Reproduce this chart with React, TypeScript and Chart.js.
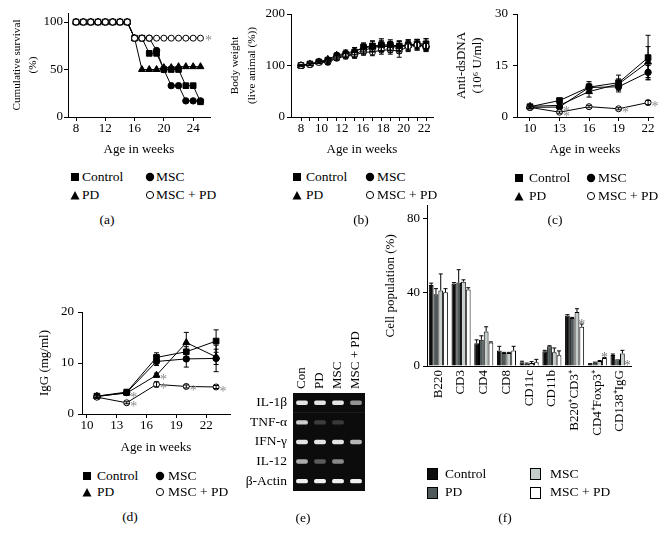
import React, { useEffect, useRef } from 'react';
import { Chart, registerables } from 'chart.js';

Chart.register(...registerables);

const FONT = "'Liberation Serif', 'Times New Roman', Times, serif";
Chart.defaults.font.family = FONT;
Chart.defaults.font.size = 13;
Chart.defaults.color = '#000';

// ---------- shared ----------
const seriesNames = ['Control', 'MSC', 'PD', 'MSC + PD'];

// ---------- (a) cumulative survival ----------
const survivalWeeks = [8, 9, 10, 11, 12, 13, 14, 15, 16, 17, 18, 19, 20, 21, 22, 23, 24, 25];
const survivalControl = [100, 100, 100, 100, 100, 100, 100, 100, 83, 83, 67, 67, 50, 50, 50, 33, 33, 16];
const survivalMsc = [100, 100, 100, 100, 100, 100, 100, 100, 83, 83, 83, 70, 50, 33, 33, 17, 17, 17];
const survivalPd = [100, 100, 100, 100, 100, 100, 100, 100, 83, 50, 50, 50, 52, 52, 53, 53, 53, 53];
const survivalMscPd = [100, 100, 100, 100, 100, 100, 100, 100, 83, 83, 83, 83, 83, 83, 83, 83, 83, 83];
const survivalStarsMscPd = [17];
const survivalXTicks = [8, 12, 16, 20, 24];
const survivalYTicks = [0, 50, 100];

// ---------- (b) body weight ----------
const weightWeeks = [8, 9, 10, 11, 12, 13, 14, 15, 16, 17, 18, 19, 20, 21, 22];
const weightControl = [100, 103, 107, 110, 118, 122, 126, 136, 138, 140, 140, 138, 140, 142, 142];
const weightMsc = [100, 102, 107, 108, 116, 120, 122, 130, 134, 138, 138, 137, 140, 141, 135];
const weightPd = [100, 103, 107, 112, 120, 124, 128, 134, 137, 138, 136, 136, 139, 140, 140];
const weightMscPd = [100, 102, 106, 106, 114, 118, 120, 126, 126, 130, 130, 128, 137, 140, 138];
const weightControlErr = [1, 2, 2, 4, 5, 6, 8, 8, 10, 12, 10, 9, 10, 9, 10];
const weightMscErr = [1, 2, 2, 4, 5, 5, 6, 7, 8, 9, 9, 10, 10, 9, 8];
const weightPdErr = [1, 2, 2, 4, 5, 6, 7, 8, 10, 11, 10, 12, 9, 10, 12];
const weightMscPdErr = [1, 2, 2, 4, 4, 5, 6, 6, 7, 8, 8, 12, 10, 10, 9];
const weightMarkTicks = [8, 9, 10, 11, 12, 13, 14, 15, 16, 17, 18, 19, 20, 21, 22];
const weightTickLabels = ['8', '10', '12', '16', '18', '20', '22'];
const weightTickPositions = [8, 10.3, 12.6, 14.9, 17.2, 19.5, 21.8];
const weightYTicks = [0, 100, 200];

// ---------- (c) anti-dsDNA ----------
const dnaWeeks = [10, 13, 16, 19, 22];
const dnaControl = [3.0, 4.8, 8.7, 10.0, 17.3];
const dnaMsc = [2.8, 2.9, 8.6, 8.8, 13.0];
const dnaPd = [3.1, 3.4, 7.4, 9.6, 16.0];
const dnaMscPd = [2.8, 1.4, 3.0, 2.4, 4.2];
const dnaControlErr = [0.5, 0.6, 1.6, 2.2, 6.5];
const dnaMscErr = [0.4, 0.5, 1.2, 1.5, 2.0];
const dnaPdErr = [0.4, 0.5, 1.6, 1.5, 4.5];
const dnaMscPdErr = [0.3, 0.3, 0.3, 0.3, 0.6];
const dnaStarsMsc = [1];
const dnaStarsMscPd = [1, 3, 4];
const dnaXTicks = [10, 13, 16, 19, 22];
const dnaYTicks = [0, 15, 30];

// ---------- (d) IgG ----------
const iggWeeks = [11, 14, 17, 20, 23];
const iggControl = [3.5, 4.3, 11.1, 12.2, 14.3];
const iggMsc = [3.4, 4.2, 10.3, 10.8, 10.9];
const iggPd = [3.5, 4.1, 7.6, 14.0, 11.2];
const iggMscPd = [3.3, 2.2, 5.8, 5.4, 5.3];
const iggControlErr = [0.3, 0.3, 0.9, 1.0, 2.2];
const iggMscErr = [0.3, 0.3, 0.8, 1.6, 2.6];
const iggPdErr = [0.3, 0.3, 0.4, 2.0, 1.5];
const iggMscPdErr = [0.2, 0.2, 0.5, 0.3, 0.3];
const iggStarsPd = [1, 2];
const iggStarsMscPd = [1, 2, 3, 4];
const iggXTicks = [10, 13, 16, 19, 22];
const iggYTicks = [0, 10, 20];

// ---------- (e) RT-PCR gel ----------
const gelLanes = ['Con', 'PD', 'MSC', 'MSC + PD'];
const gelGenes = ['IL-1β', 'TNF-α', 'IFN-γ', 'IL-12', 'β-Actin'];
const gelIl1b = [0.95, 0.95, 0.95, 0.6];
const gelTnfa = [0.85, 0.22, 0.2, 0];
const gelIfng = [0.95, 0.95, 0.95, 0.75];
const gelIl12 = [0.7, 0.35, 0.55, 0];
const gelActin = [1, 1, 1, 1];

// ---------- (f) cell populations ----------
const cellLabels = ['B220', 'CD3', 'CD4', 'CD8', 'CD11c', 'CD11b', 'B220⁺CD3⁺', 'CD4⁺Foxp3⁺', 'CD138⁺IgG'];
const cellControl = [44, 44.8, 12.4, 8.4, 2.1, 8.0, 27.4, 1.1, 6.0];
const cellPd = [39, 45.3, 14.2, 7.1, 1.2, 10.7, 26.1, 1.8, 3.6];
const cellMsc = [41, 45.8, 18.7, 7.1, 1.6, 7.5, 29.3, 2.7, 6.8];
const cellMscPd = [40, 41.5, 12.8, 8.4, 2.0, 5.9, 21.3, 4.3, 0.3];
const cellControlErr = [1, 0.5, 1.8, 2.3, 0.5, 0.5, 0.5, 0.2, 0.5];
const cellPdErr = [3, 7, 2.2, 0.3, 0.4, 0.3, 0.3, 0.3, 0];
const cellMscErr = [9, 1, 2.6, 0.3, 0.8, 2.3, 1.8, 0.3, 1.7];
const cellMscPdErr = [2, 1, 0.3, 2.3, 1.6, 2.3, 1.5, 0.3, 0];
const cellStarsMscPd = [6, 7, 8];
const cellYTicks = [0, 40, 80];

// ---------- plugin: error bars + asterisks ----------
const annotatePlugin = {
  id: 'annotate',
  afterDatasetsDraw(chart: any, _args: any, opts: any) {
    const ctx = chart.ctx;
    const cap = opts.cap ?? 2.5;
    const up = opts.mode === 'up';
    ctx.save();
    chart.data.datasets.forEach((ds: any, di: number) => {
      const meta = chart.getDatasetMeta(di);
      const vScale = meta.vScale;
      meta.data.forEach((el: any, i: number) => {
        const raw = ds.data[i];
        const v = typeof raw === 'number' ? raw : raw.y;
        const e = ds.errors ? ds.errors[i] : 0;
        const yTop = vScale.getPixelForValue(v + e);
        const yBot = up ? el.y : vScale.getPixelForValue(v - e);
        if (e > 0) {
          ctx.strokeStyle = '#000';
          ctx.lineWidth = 1;
          ctx.beginPath();
          ctx.moveTo(el.x, yTop);
          ctx.lineTo(el.x, yBot);
          ctx.moveTo(el.x - cap, yTop);
          ctx.lineTo(el.x + cap, yTop);
          if (!up) {
            ctx.moveTo(el.x - cap, yBot);
            ctx.lineTo(el.x + cap, yBot);
          }
          ctx.stroke();
        }
        if (ds.stars && ds.stars.includes(i)) {
          ctx.fillStyle = opts.starColor ?? '#8c8c8c';
          ctx.font = `${opts.starSize ?? 14}px ${FONT}`;
          ctx.textAlign = 'center';
          ctx.textBaseline = 'middle';
          const base = up ? Math.min(yTop, el.y) : el.y;
          ctx.fillText('*', el.x + (opts.starDx ?? 0), base + (opts.starDy ?? 0));
        }
      });
    });
    ctx.restore();
  },
};

// ---------- helpers ----------
const pointLook: Record<string, any> = {
  Control: { pointStyle: 'rect', pointRadius: 4, fill: '#000', order: 1 },
  MSC: { pointStyle: 'circle', pointRadius: 3.2, fill: '#000', order: 1 },
  PD: { pointStyle: 'triangle', pointRadius: 4, fill: '#000', order: 1 },
  'MSC + PD': { pointStyle: 'circle', pointRadius: 3, fill: '#fff', order: 0 },
};

function lineDatasets(xs: number[], values: number[][], errors?: number[][], stars?: (number[] | undefined)[]) {
  return values.map((vals, k) => {
    const name = seriesNames[k];
    const look = pointLook[name];
    return {
      label: name,
      data: xs.map((x, i) => ({ x, y: vals[i] })),
      errors: errors ? errors[k] : undefined,
      stars: stars ? stars[k] : undefined,
      borderColor: '#000',
      borderWidth: 1,
      pointStyle: look.pointStyle,
      pointRadius: look.pointRadius,
      pointBackgroundColor: look.fill,
      pointBorderColor: '#000',
      pointBorderWidth: 1,
      tension: 0,
      fill: false,
      order: look.order,
    };
  });
}

function yLinear(o: {
  min: number; max: number; ticks: number[]; title: string | string[]; width: number; titlePad: number; tickPad: number;
  titleSize?: number; titleLine?: string;
}) {
  return {
    type: 'linear',
    position: 'left',
    min: o.min,
    max: o.max,
    afterBuildTicks: (s: any) => {
      s.ticks = o.ticks.map((v) => ({ value: v }));
    },
    afterFit: (s: any) => {
      s.width = o.width;
    },
    grid: { display: true, drawOnChartArea: false, drawTicks: true, tickLength: 4, color: '#000', lineWidth: 1 },
    border: { display: true, color: '#000', width: 1 },
    ticks: { padding: o.tickPad, autoSkip: false, color: '#000', font: { size: 13 } },
    title: {
      display: true,
      text: o.title,
      color: '#000',
      font: o.titleLine ? { size: o.titleSize ?? 13, lineHeight: o.titleLine } : { size: o.titleSize ?? 13 },
      padding: { top: o.titlePad, bottom: 0 },
    },
  };
}

function xLinear(o: {
  min: number; max: number; ticks: number[]; height: number; title?: string; labels?: string[];
  marks?: boolean; showLabels?: boolean; border?: boolean; tickPad?: number;
}) {
  const marks = o.marks !== false;
  return {
    type: 'linear',
    position: 'bottom',
    min: o.min,
    max: o.max,
    afterBuildTicks: (s: any) => {
      s.ticks = o.ticks.map((v) => ({ value: v }));
    },
    afterFit: (s: any) => {
      s.height = o.height;
    },
    grid: { display: marks, drawOnChartArea: false, drawTicks: marks, tickLength: 4, color: '#000', lineWidth: 1 },
    border: { display: o.border !== false, color: '#000', width: 1 },
    ticks: {
      display: o.showLabels !== false,
      padding: o.tickPad ?? 0,
      autoSkip: false,
      minRotation: 0,
      maxRotation: 0,
      color: '#000',
      font: { size: 13 },
      callback: (v: any, i: number) => (o.labels ? o.labels[i] : String(v)),
    },
    title: o.title
      ? { display: true, text: o.title, color: '#000', font: { size: 13 }, padding: { top: 0, bottom: 0 } }
      : { display: false },
  };
}

function baseOptions(padding: any) {
  return {
    responsive: false,
    animation: false as const,
    events: [] as any[],
    layout: { padding, autoPadding: false },
    plugins: { legend: { display: false }, tooltip: { enabled: false }, annotate: {} as any },
  };
}

// ---------- chart configs ----------
function survivalConfig() {
  const o: any = baseOptions({ left: 8, top: 13, right: 15, bottom: 8 });
  o.scales = {
    x: xLinear({ min: 6.9, max: 26.3, ticks: survivalXTicks, height: 40, title: 'Age in weeks' }),
    y: yLinear({
      min: 0, max: 109.5, ticks: survivalYTicks, title: ['Cumulative survival', '(%)'], width: 60, titlePad: 1,
      tickPad: 1, titleSize: 11.2, titleLine: '16px',
    }),
  };
  o.plugins.annotate = { starDx: 8, starDy: 3 };
  return {
    type: 'line',
    data: {
      datasets: lineDatasets(survivalWeeks, [survivalControl, survivalMsc, survivalPd, survivalMscPd], undefined, [
        undefined, undefined, undefined, survivalStarsMscPd,
      ]),
    },
    options: o,
    plugins: [annotatePlugin],
  };
}

function weightConfig() {
  const o: any = baseOptions({ left: 0, top: 14, right: 15, bottom: 8 });
  o.scales = {
    x: xLinear({ min: 6.88, max: 22.78, ticks: weightMarkTicks, height: 4, showLabels: false }),
    x2: xLinear({
      min: 6.88, max: 22.78, ticks: weightTickPositions, labels: weightTickLabels, height: 36,
      title: 'Age in weeks', marks: false, border: false,
    }),
    y: yLinear({
      min: 0, max: 200, ticks: weightYTicks, title: ['Body weight', '(live animal (%))'], width: 65, titlePad: 0.5,
      tickPad: 2, titleSize: 11.2, titleLine: '17px',
    }),
  };
  o.plugins.annotate = { cap: 2.5 };
  return {
    type: 'line',
    data: {
      datasets: lineDatasets(weightWeeks, [weightControl, weightMsc, weightPd, weightMscPd], [
        weightControlErr, weightMscErr, weightPdErr, weightMscPdErr,
      ]),
    },
    options: o,
    plugins: [annotatePlugin],
  };
}

function dnaConfig() {
  const o: any = baseOptions({ left: 0, top: 14, right: 15, bottom: 8 });
  o.scales = {
    x: xLinear({ min: 8.68, max: 22.5, ticks: dnaXTicks, height: 40, title: 'Age in weeks' }),
    y: yLinear({ min: 0, max: 30, ticks: dnaYTicks, title: ['Anti-dsDNA', '(10⁶ U/ml)'], width: 67, titlePad: 4.2, tickPad: 5 }),
  };
  o.plugins.annotate = { starDx: 7, starDy: 5 };
  return {
    type: 'line',
    data: {
      datasets: lineDatasets(dnaWeeks, [dnaControl, dnaMsc, dnaPd, dnaMscPd], [dnaControlErr, dnaMscErr, dnaPdErr, dnaMscPdErr], [
        undefined, dnaStarsMsc, undefined, dnaStarsMscPd,
      ]),
    },
    options: o,
    plugins: [annotatePlugin],
  };
}

function iggConfig() {
  const o: any = baseOptions({ left: 0, top: 12, right: 15, bottom: 5 });
  o.scales = {
    x: xLinear({ min: 9.5, max: 24.4, ticks: iggXTicks, height: 41, title: 'Age in weeks' }),
    y: yLinear({ min: 0, max: 20, ticks: iggYTicks, title: 'IgG (mg/ml)', width: 52, titlePad: 7.2, tickPad: 4 }),
  };
  o.plugins.annotate = { starDx: 7, starDy: 5 };
  return {
    type: 'line',
    data: {
      datasets: lineDatasets(iggWeeks, [iggControl, iggMsc, iggPd, iggMscPd], [iggControlErr, iggMscErr, iggPdErr, iggMscPdErr], [
        undefined, undefined, iggStarsPd, iggStarsMscPd,
      ]),
    },
    options: o,
    plugins: [annotatePlugin],
  };
}

function gelConfig() {
  const intensities = [gelIl1b, gelTnfa, gelIfng, gelIl12, gelActin];
  const boxes = {
    label: 'gel',
    data: gelGenes.map(() => [-0.5, 3.5]),
    backgroundColor: '#0c0c0c',
    barThickness: 19.5,
    grouped: false,
    order: 2,
    borderWidth: 0,
  };
  const bands = gelLanes.map((lane, li) => ({
    label: lane,
    data: gelGenes.map(() => [li - 0.31, li + 0.31]),
    backgroundColor: intensities.map((row) => `rgba(240,240,240,${row[li]})`),
    barThickness: 3.8,
    borderRadius: 2,
    borderSkipped: false,
    borderWidth: 0,
    grouped: false,
    order: 1,
  }));
  const o: any = baseOptions({ left: 0, top: 0, right: 5, bottom: 5 });
  o.indexAxis = 'y';
  o.scales = {
    x: { type: 'linear', min: -0.5, max: 3.5, display: false },
    xTop: {
      type: 'linear',
      position: 'top',
      min: -0.5,
      max: 3.5,
      afterBuildTicks: (s: any) => {
        s.ticks = gelLanes.map((_l, i) => ({ value: i }));
      },
      afterFit: (s: any) => {
        s.height = 73;
      },
      grid: { display: false, drawTicks: false },
      border: { display: false },
      ticks: {
        autoSkip: false, minRotation: 90, maxRotation: 90, padding: 4, color: '#000',
        font: { size: 13, lineHeight: 0.01 },
        callback: (_v: any, i: number) => gelLanes[i],
      },
    },
    y: {
      type: 'category',
      position: 'left',
      afterFit: (s: any) => {
        s.width = 73;
      },
      grid: { display: false, drawTicks: false },
      border: { display: false },
      ticks: { padding: 6, color: '#000', font: { size: 13.5 } },
    },
  };
  return {
    type: 'bar',
    data: { labels: gelGenes, datasets: [...bands, boxes] },
    options: o,
  };
}

function cellConfig() {
  const colors = ['#0d0d0d', '#505a5b', '#c6cecc', '#ffffff'];
  const vals = [cellControl, cellPd, cellMsc, cellMscPd];
  const errs = [cellControlErr, cellPdErr, cellMscErr, cellMscPdErr];
  const names = ['Control', 'PD', 'MSC', 'MSC + PD'];
  const stars = [undefined, undefined, undefined, cellStarsMscPd];
  const o: any = baseOptions({ left: 0, top: 8, right: 7, bottom: 6 });
  o.datasets = { bar: { categoryPercentage: 0.84, barPercentage: 1, borderColor: '#000', borderWidth: 1 } };
  o.scales = {
    x: {
      type: 'category',
      position: 'bottom',
      afterFit: (s: any) => {
        s.height = 75;
      },
      grid: { display: false, drawTicks: false },
      border: { display: true, color: '#000', width: 1 },
      ticks: { autoSkip: false, minRotation: 90, maxRotation: 90, padding: 4, color: '#000', font: { size: 13 } },
    },
    y: yLinear({ min: 0, max: 87, ticks: cellYTicks, title: 'Cell population (%)', width: 52, titlePad: 8.2, tickPad: 3 }),
  };
  o.plugins.annotate = { mode: 'up', cap: 2, starDy: 1, starColor: '#7a7a7a' };
  return {
    type: 'bar',
    data: {
      labels: cellLabels,
      datasets: vals.map((v, k) => ({
        label: names[k],
        data: v,
        errors: errs[k],
        stars: stars[k],
        backgroundColor: colors[k],
      })),
    },
    options: o,
    plugins: [annotatePlugin],
  };
}

// ---------- components ----------
function ChartCanvas({ left, top, width, height, make }: { left: number; top: number; width: number; height: number; make: () => any }) {
  const ref = useRef<HTMLCanvasElement>(null);
  useEffect(() => {
    const chart = new Chart(ref.current as HTMLCanvasElement, make());
    return () => chart.destroy();
  }, []);
  return <canvas ref={ref} width={width} height={height} style={{ position: 'absolute', left, top, width, height }} />;
}

type MarkerKind = 'square' | 'dot' | 'tri' | 'open';

function LegendMarker({ kind, cx, cy }: { kind: MarkerKind; cx: number; cy: number }) {
  let shape;
  if (kind === 'square') shape = <rect x={2} y={2} width={8} height={8} fill="#000" />;
  else if (kind === 'dot') shape = <circle cx={6} cy={6} r={4.2} fill="#000" />;
  else if (kind === 'tri') shape = <polygon points="1.5,10.5 10.5,10.5 6,2" fill="#000" />;
  else shape = <circle cx={6} cy={6} r={3.6} fill="#fff" stroke="#000" strokeWidth={1} />;
  return (
    <svg width={12} height={12} style={{ position: 'absolute', left: cx - 6, top: cy - 6 }}>
      {shape}
    </svg>
  );
}

function Txt({ x, y, text, size = 13.5 }: { x: number; y: number; text: string; size?: number }) {
  return (
    <div
      style={{
        position: 'absolute', left: x, top: y - 9, height: 18, lineHeight: '18px', fontSize: size,
        fontFamily: FONT, whiteSpace: 'nowrap', color: '#000',
      }}
    >
      {text}
    </div>
  );
}

function Caption({ cx, cy, text }: { cx: number; cy: number; text: string }) {
  return (
    <div
      style={{
        position: 'absolute', left: cx - 20, width: 40, top: cy - 9, height: 18, lineHeight: '18px',
        textAlign: 'center', fontSize: 13.5, fontFamily: FONT, color: '#000',
      }}
    >
      {text}
    </div>
  );
}

function MarkerLegend({ c1, t1, c2, t2, r1, r2 }: { c1: number; t1: number; c2: number; t2: number; r1: number; r2: number }) {
  return (
    <>
      <LegendMarker kind="square" cx={c1} cy={r1} />
      <Txt x={t1} y={r1} text={seriesNames[0]} />
      <LegendMarker kind="dot" cx={c2} cy={r1} />
      <Txt x={t2} y={r1} text={seriesNames[1]} />
      <LegendMarker kind="tri" cx={c1} cy={r2} />
      <Txt x={t1} y={r2} text={seriesNames[2]} />
      <LegendMarker kind="open" cx={c2} cy={r2} />
      <Txt x={t2} y={r2} text={seriesNames[3]} />
    </>
  );
}

function Swatch({ cx, cy, color }: { cx: number; cy: number; color: string }) {
  return (
    <div
      style={{
        position: 'absolute', left: cx - 5, top: cy - 5.5, width: 9, height: 10, background: color,
        border: '1px solid #000',
      }}
    />
  );
}

export default function App() {
  return (
    <div style={{ position: 'absolute', left: 0, top: 0, width: 671, height: 544, background: '#fff', overflow: 'hidden' }}>
      <ChartCanvas left={0} top={0} width={225} height={165} make={survivalConfig} />
      <ChartCanvas left={226} top={0} width={222} height={165} make={weightConfig} />
      <ChartCanvas left={450} top={0} width={218} height={165} make={dnaConfig} />
      <ChartCanvas left={30} top={300} width={215} height={160} make={iggConfig} />
      <ChartCanvas left={220} top={320} width={150} height={185} make={gelConfig} />
      <ChartCanvas left={375} top={195} width={265} height={252} make={cellConfig} />

      <MarkerLegend c1={75} t1={82} c2={150} t2={156} r1={177} r2={195} />
      <MarkerLegend c1={296.5} t1={306} c2={369.5} t2={377} r1={177} r2={195} />
      <MarkerLegend c1={519} t1={529} c2={591} t2={598} r1={178} r2={196} />
      <MarkerLegend c1={87} t1={97} c2={159.5} t2={168} r1={476} r2={492} />

      <Swatch cx={432} cy={473.5} color="#0d0d0d" />
      <Txt x={445} y={473.5} text="Control" />
      <Swatch cx={535} cy={473.5} color="#c6cecc" />
      <Txt x={550} y={473.5} text="MSC" />
      <Swatch cx={432} cy={492} color="#505a5b" />
      <Txt x={445} y={492} text="PD" />
      <Swatch cx={535} cy={492} color="#ffffff" />
      <Txt x={550} y={492} text="MSC + PD" />

      <Caption cx={107} cy={220} text="(a)" />
      <Caption cx={361} cy={220} text="(b)" />
      <Caption cx={555} cy={220} text="(c)" />
      <Caption cx={130} cy={517} text="(d)" />
      <Caption cx={303} cy={518} text="(e)" />
      <Caption cx={505} cy={518} text="(f)" />
    </div>
  );
}
